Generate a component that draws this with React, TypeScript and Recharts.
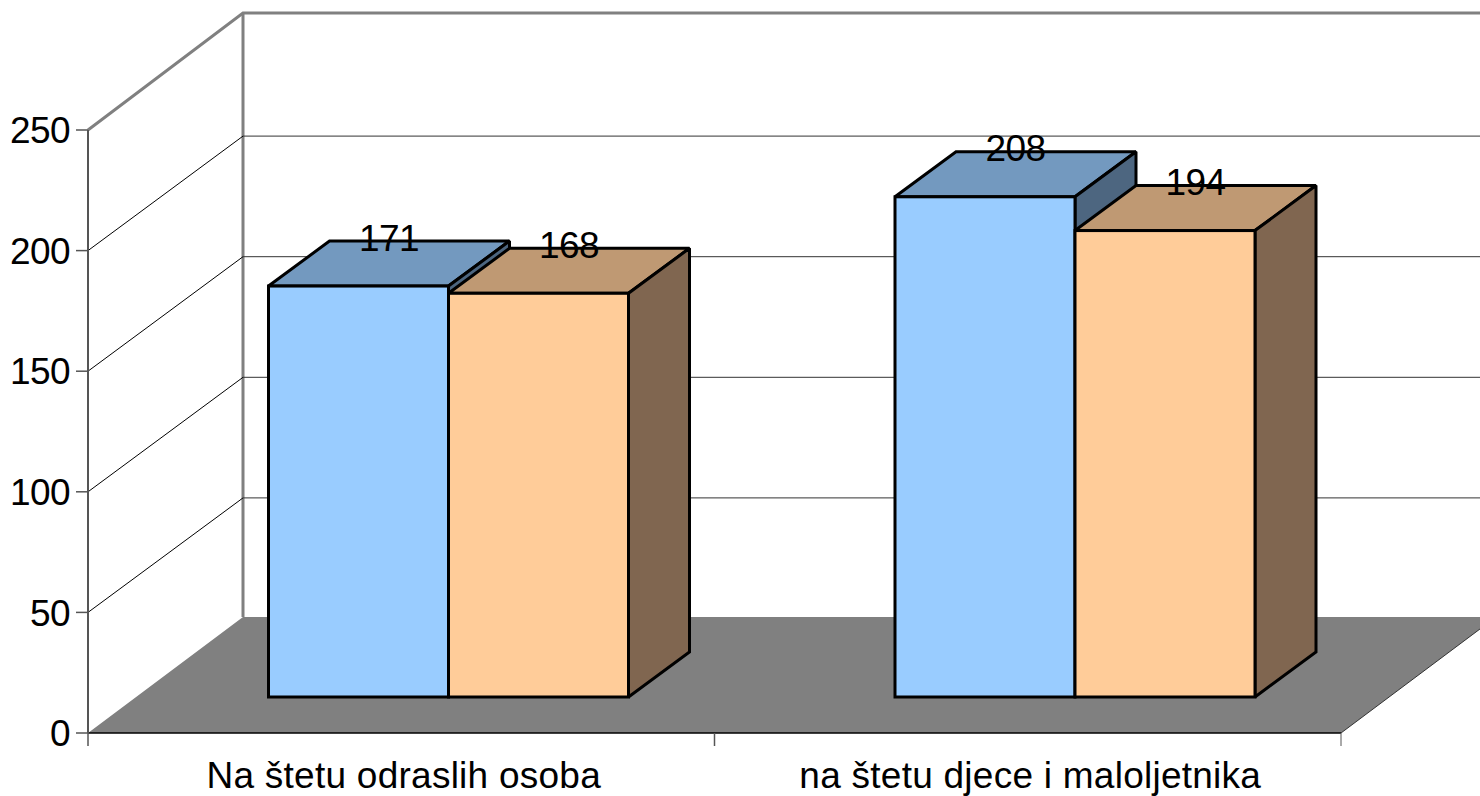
import { BarChart, Bar, XAxis, YAxis, CartesianGrid, LabelList } from 'recharts'

const categories = ['Na štetu odraslih osoba', 'na štetu djece i maloljetnika']
const seriesBlue = [171, 208]
const seriesOrange = [168, 194]
const yTicks = [0, 50, 100, 150, 200, 250]

const chartData = categories.map((name, i) => ({ name, blue: seriesBlue[i], orange: seriesOrange[i] }))

const FONT = '"Liberation Sans", Arial, sans-serif'

// how far the box fronts sit in from the axis plane, and how deep they are
const SHIFT_X = 47.5
const SHIFT_Y = 36
const DEPTH_X = 61
const DEPTH_Y = 45
// the source drew its box tops a touch lower than its own axis scale
const TOP_TRIM = 1.5
// full depth of the floor and walls
const WALL_X = 155
const BAND = 626.5

function makeBox(front: string, top: string, side: string) {
  return (props: any) => {
    const x = props.x + SHIFT_X
    const y = props.y - SHIFT_Y + TOP_TRIM
    const w = props.width
    const h = props.height - TOP_TRIM
    const common = { stroke: '#000', strokeWidth: 3, strokeLinejoin: 'miter' as const, strokeMiterlimit: 2 }
    return (
      <g>
        <polygon points={`${x},${y} ${x + DEPTH_X},${y - DEPTH_Y} ${x + w + DEPTH_X},${y - DEPTH_Y} ${x + w},${y}`} fill={top} {...common} />
        <polygon points={`${x + w},${y} ${x + w + DEPTH_X},${y - DEPTH_Y} ${x + w + DEPTH_X},${y + h - DEPTH_Y} ${x + w},${y + h}`} fill={side} {...common} />
        <rect x={x} y={y} width={w} height={h} fill={front} {...common} />
      </g>
    )
  }
}

function GridLine(props: any) {
  const { x1, x2, y1, y, height } = props
  const right = x2 + 300
  if (Math.abs(y1 - (y + height)) < 1) {
    // the zero line carries the floor
    return (
      <g>
        <polygon points={`${x1},${y1} ${x1 + WALL_X},${y1 - 116} ${right},${y1 - 116} ${x2 + WALL_X},${y1 - 116} ${x2},${y1}`} fill="#808080" />
        <line x1={x2} y1={y1} x2={x2 + WALL_X} y2={y1 - 116} stroke="#333" strokeWidth={1} />
        <line x1={x1 + WALL_X} y1={y1 - 116} x2={x1 + WALL_X} y2={y - 117} stroke="#808080" strokeWidth={3} />
      </g>
    )
  }
  if (Math.abs(y1 - y) < 1) {
    return <polyline points={`${x1},${y1} ${x1 + WALL_X},${y1 - 117} ${right},${y1 - 117}`} fill="none" stroke="#808080" strokeWidth={3} />
  }
  return (
    <g>
      <line x1={x1} y1={y1} x2={x1 + WALL_X} y2={y1 - 114.5} stroke="#000" strokeWidth={1} />
      <line x1={x1 + WALL_X} y1={y1 - 114.5} x2={right} y2={y1 - 114.5} stroke="#333" strokeWidth={1} />
    </g>
  )
}

function CategoryTick(props: any) {
  const { x, y, payload } = props
  return (
    <g>
      <line x1={x - BAND / 2} y1={y} x2={x - BAND / 2} y2={y + 13} stroke="#555" strokeWidth={1.5} />
      <line x1={x + BAND / 2} y1={y} x2={x + BAND / 2} y2={y + 13} stroke="#555" strokeWidth={1} />
      <text x={x + 2.5} y={y + 55} textAnchor="middle" fontFamily={FONT} fontSize={37} letterSpacing={0.25} fill="#000">
        {payload.value}
      </text>
    </g>
  )
}

function TopLabel(props: any) {
  const { x, y, width, value } = props
  return (
    <text x={x + width / 2 + SHIFT_X + 30.5} y={y - SHIFT_Y - 34} textAnchor="middle" fontFamily={FONT} fontSize={37} letterSpacing={-0.6} fill="#000">
      {value}
    </text>
  )
}

export default function App() {
  return (
    <div style={{ position: 'absolute', left: 0, top: 0, width: 1480, height: 796, background: '#fff' }}>
      <BarChart
        width={1480}
        height={796}
        data={chartData}
        margin={{ top: 130, right: 139, bottom: 0, left: 0 }}
        barSize={180}
        barGap={0}
      >
        <CartesianGrid vertical={false} horizontal={GridLine} />
        <XAxis
          dataKey="name"
          height={63}
          interval={0}
          tickLine={false}
          tickSize={0}
          tickMargin={0}
          axisLine={{ stroke: '#000', strokeWidth: 1.5 }}
          tick={CategoryTick}
        />
        <YAxis
          width={88}
          domain={[0, 250]}
          ticks={yTicks}
          tickSize={12}
          tickMargin={6}
          axisLine={{ stroke: '#555', strokeWidth: 2 }}
          tickLine={{ stroke: '#555', strokeWidth: 1.5 }}
          tick={{ fontFamily: FONT, fontSize: 37, letterSpacing: -0.6, fill: '#000' }}
        />
        <Bar dataKey="blue" isAnimationActive={false} shape={makeBox('#99CCFF', '#7399BF', '#4D6680')}>
          <LabelList dataKey="blue" content={TopLabel} />
        </Bar>
        <Bar dataKey="orange" isAnimationActive={false} shape={makeBox('#FFCC99', '#BF9973', '#806650')}>
          <LabelList dataKey="orange" content={TopLabel} />
        </Bar>
      </BarChart>
    </div>
  )
}
